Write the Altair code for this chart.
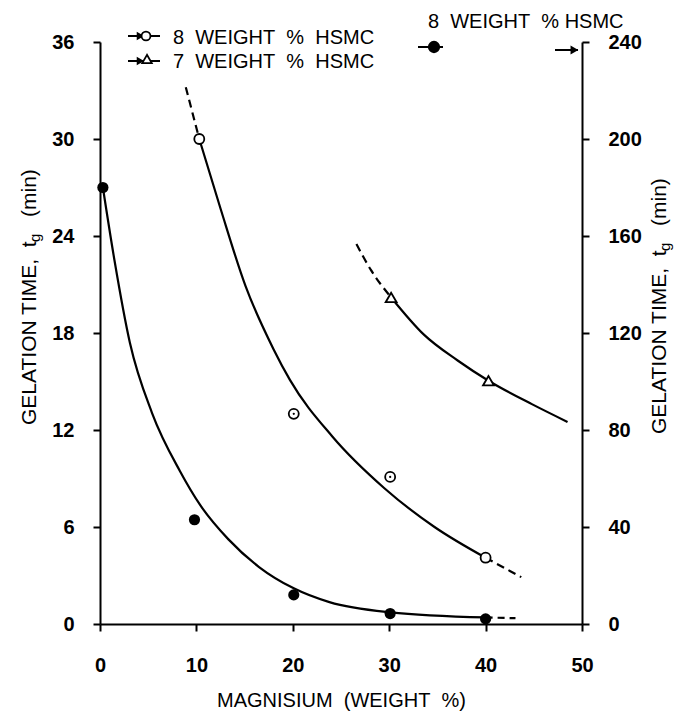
import altair as alt
import pandas as pd

# ---------------- data ----------------
# filled circles: 8 weight % HSMC, right axis (min, 0-240)
filled_x = [0.3, 9.8, 20.1, 30.1, 40.0]
filled_y = [180, 43, 12, 4.3, 2.1]
# open circles: 8 weight % HSMC, left axis (min, 0-36)
open_x = [10.3, 20.1, 30.1, 40.0]
open_y = [30.0, 13.0, 9.1, 4.1]
open_dotted = [False, True, True, False]
# open triangles: 7 weight % HSMC, left axis
tri_x = [30.2, 40.3]
tri_y = [20.2, 15.05]

# hand-drawn fitted curves
open_curve_x = [10.3, 12.5, 15.1, 18.0, 19.7, 24.1, 29.5, 34.7, 40.0]
open_curve_y = [30.0, 25.7, 20.9, 17.0, 15.1, 11.6, 8.4, 6.0, 4.1]
open_dash_top_x = [8.9, 10.3]
open_dash_top_y = [33.2, 30.0]
open_dash_end_x = [40.0, 43.7]
open_dash_end_y = [4.1, 2.9]

tri_dash_x = [26.6, 28.1, 30.2]
tri_dash_y = [23.5, 21.9, 20.2]
tri_curve_x = [30.2, 33.6, 37.1, 40.3, 44.8, 48.5]
tri_curve_y = [20.2, 17.9, 16.3, 15.05, 13.6, 12.5]

filled_curve_x = [0.3, 1.5, 3.1, 5.4, 8.3, 10.4, 13.3, 16.5, 20.1, 23.8, 30.1, 40.0]
filled_curve_y = [180, 150, 116, 87, 63, 49, 35, 23.5, 14.7, 9.0, 4.8, 2.7]
filled_dash_x = [40.0, 43.1]
filled_dash_y = [2.7, 2.4]

x_ticks = [0, 10, 20, 30, 40, 50]
left_ticks = [0, 6, 12, 18, 24, 30, 36]
right_ticks = [0, 40, 80, 120, 160, 200, 240]

FONT = "Liberation Sans"
W, H = 482, 582

# ---------------- encodings ----------------
x_axis = alt.Axis(values=x_ticks, title="MAGNISIUM\u00a0\u00a0(WEIGHT\u00a0\u00a0%)",
                  grid=False, domainColor="black", domainWidth=2,
                  tickColor="black", tickWidth=2, tickSize=7, labelPadding=24,
                  labelFont=FONT, labelFontSize=20, labelFontWeight="bold",
                  labelColor="black", labelFlush=False,
                  titleFont=FONT, titleFontSize=20, titleFontWeight="normal",
                  titleColor="black", titleY=76, titleBaseline="middle")
X = alt.X("x:Q", scale=alt.Scale(domain=[0, 50], nice=False, zero=False), axis=x_axis)

left_axis = alt.Axis(values=left_ticks, orient="left", title=None, grid=False,
                     domainColor="black", domainWidth=2, tickColor="black",
                     tickWidth=2, tickSize=7, labelPadding=19, labelFont=FONT,
                     labelFontSize=20, labelFontWeight="bold", labelColor="black",
                     labelFlush=False)
YL = alt.Y("y:Q", scale=alt.Scale(domain=[0, 36], nice=False), axis=left_axis)

right_axis = alt.Axis(values=right_ticks, orient="right", title=None, grid=False,
                      domainColor="black", domainWidth=2, tickColor="black",
                      tickWidth=2, tickSize=7, labelPadding=19, labelFont=FONT,
                      labelFontSize=20, labelFontWeight="bold", labelColor="black",
                      labelFlush=False)
YR = alt.Y("y:Q", scale=alt.Scale(domain=[0, 240], nice=False), axis=right_axis)


def df(xs, ys):
    return pd.DataFrame({"x": xs, "y": ys, "o": list(range(len(xs)))})


def curve(xs, ys, Y, dash=None):
    kw = dict(color="black", strokeWidth=2.2, interpolate="monotone")
    if dash:
        kw["strokeDash"] = dash
    return alt.Chart(df(xs, ys)).mark_line(**kw).encode(x=X, y=Y, order="o:Q")


one = pd.DataFrame({"a": [0]})


def txt(s, x, y, size=20, align="left", angle=None, weight="normal"):
    kw = dict(text=s, font=FONT, fontSize=size, align=align, baseline="middle",
              color="black", fontWeight=weight)
    if angle is not None:
        kw["angle"] = angle
    return alt.Chart(one).mark_text(**kw).encode(x=alt.value(x), y=alt.value(y))


def rule(x1, x2, y, w=2):
    return alt.Chart(one).mark_rule(color="black", strokeWidth=w).encode(
        x=alt.value(x1), x2=alt.value(x2), y=alt.value(y))


def glyph(x, y, shape, fill, size):
    return alt.Chart(one).mark_point(shape=shape, filled=True, fill=fill, stroke="black",
                                     strokeWidth=1.8, size=size, opacity=1).encode(
        x=alt.value(x), y=alt.value(y))


# ---------------- left-axis group ----------------
open_df = pd.DataFrame({"x": open_x, "y": open_y, "dot": open_dotted})
left_layers = [
    curve(open_dash_top_x, open_dash_top_y, YL, [8, 5]),
    curve(open_curve_x, open_curve_y, YL),
    curve(open_dash_end_x, open_dash_end_y, YL, [8, 5]),
    curve(tri_dash_x, tri_dash_y, YL, [8, 5]),
    curve(tri_curve_x, tri_curve_y, YL),
    alt.Chart(open_df).mark_point(shape="circle", filled=True, fill="white",
                                  stroke="black", strokeWidth=1.8, size=100,
                                  opacity=1).encode(x=X, y=YL),
    alt.Chart(open_df).transform_filter("datum.dot").mark_point(
        shape="circle", filled=True, fill="black", size=5, opacity=1).encode(x=X, y=YL),
    alt.Chart(df(tri_x, tri_y)).mark_point(shape="triangle-up", filled=True,
                                           fill="white", stroke="black",
                                           strokeWidth=1.8, size=120,
                                           opacity=1).encode(x=X, y=YL),
    # legend (top left)
    rule(28, 60, -6),
    glyph(40, -6, "triangle-right", "black", 30),
    glyph(46, -6, "circle", "white", 80),
    txt("8\u00a0\u00a0WEIGHT\u00a0\u00a0%\u00a0\u00a0HSMC", 73, -4),
    rule(28, 60, 19),
    glyph(40, 19, "triangle-right", "black", 30),
    glyph(47, 17, "triangle-up", "white", 90),
    txt("7\u00a0\u00a0WEIGHT\u00a0\u00a0%\u00a0\u00a0HSMC", 73, 20),
    # legend (top right)
    txt("8\u00a0\u00a0WEIGHT\u00a0\u00a0%\u00a0HSMC", 328, -20),
    rule(318, 343, 5),
    glyph(334, 5, "circle", "black", 110),
    rule(455, 478, 8),
    glyph(474, 8, "triangle-right", "black", 35),
    # rotated y titles
    txt("GELATION TIME,\u00a0\u00a0t", -70, 383, size=21, angle=270),
    txt("g", -65, 200, size=15, angle=270),
    txt("(min)", -70, 175, size=21, angle=270),
    txt("GELATION TIME,\u00a0\u00a0t", 560, 392, size=21, angle=270),
    txt("g", 565, 209, size=15, angle=270),
    txt("(min)", 560, 184, size=21, angle=270),
]
left_group = alt.layer(*left_layers)

# ---------------- right-axis group ----------------
right_group = alt.layer(
    curve(filled_curve_x, filled_curve_y, YR),
    curve(filled_dash_x, filled_dash_y, YR, [7, 5]),
    alt.Chart(df(filled_x, filled_y)).mark_point(shape="circle", filled=True,
                                                 fill="black", size=125,
                                                 opacity=1).encode(x=X, y=YR),
)

chart = alt.layer(left_group, right_group).resolve_scale(y="independent").properties(
    width=W, height=H,
    padding={"left": 100, "top": 42, "right": 96, "bottom": 89},
    autosize=alt.AutoSizeParams(type="none"),
    background="white",
).configure_view(stroke=None)

chart.save("out.html", embed_options={"renderer": "svg", "actions": False})
